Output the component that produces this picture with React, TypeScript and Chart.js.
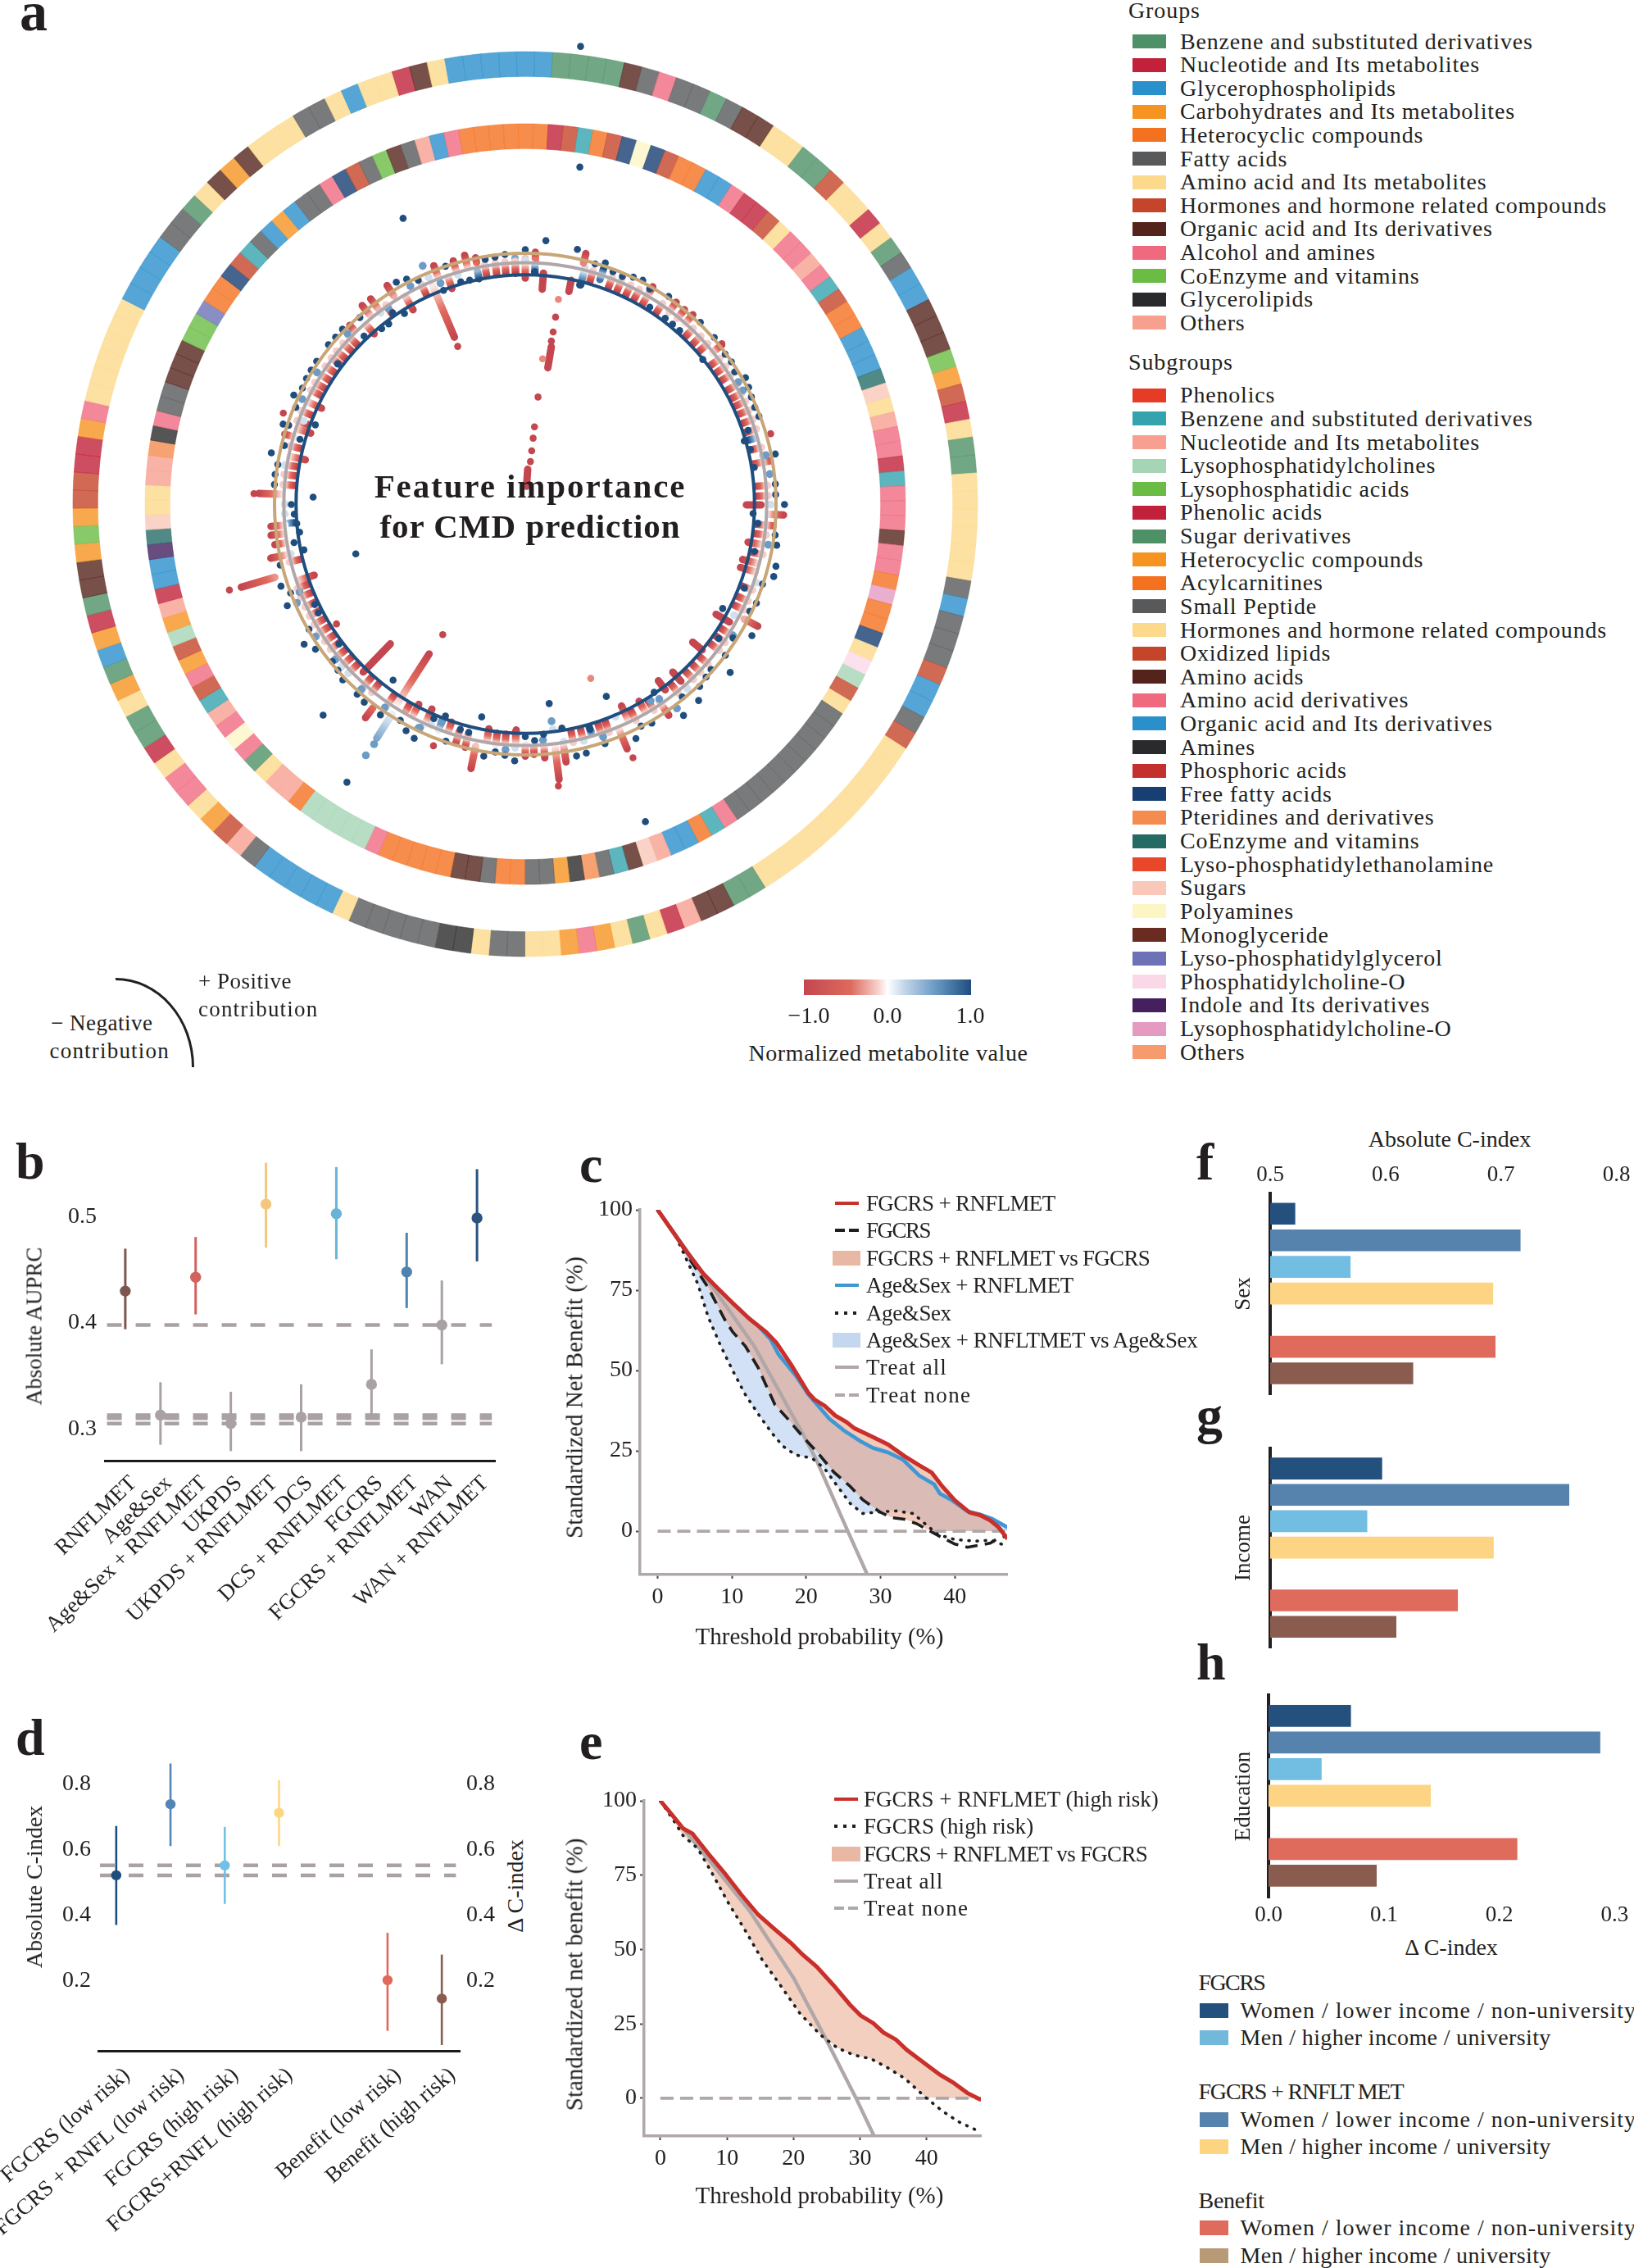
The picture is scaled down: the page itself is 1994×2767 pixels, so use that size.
import React, { useEffect, useRef } from "react";
import { Chart, registerables } from "chart.js";

Chart.register(...registerables);

const FONT = '"Liberation Serif", serif';
const INK = "#231f20";
const GREY = "#a9a1a4";
Chart.defaults.font.family = FONT;
Chart.defaults.color = INK;

// ---------- panel a: palette ----------
const ringPalette: Record<string, string> = {
  blue: "#2a90cc", green: "#4f9166", grey: "#58595b", brown: "#54241c", yellow: "#fcd98b", pink: "#ef6a7f",
  horm: "#c4452a", red: "#c1213a", orange: "#f47120", amber: "#f79320", lime: "#6abc45", black: "#2a2a2c",
  salmon: "#f8a090", teal: "#35a3ae", dkteal: "#246b66", navy: "#173f73", peach: "#f9c8b8", cream: "#fcf6c5",
  lilac: "#6c72b5", ltpink: "#fbd8e8", purple: "#44205f", mint: "#a5d5b5", lilacpink: "#e59ac2", ptorange: "#f58b4e",
};

const outerRing: [string, number][] = [
  ["blue",2],["green",4],["brown",1],["grey",1],["pink",1],["grey",2],["green",1],["grey",1],["brown",2],["yellow",2],
  ["green",2],["horm",1],["yellow",2],["red",1],["yellow",1],["green",1],["grey",1],["blue",2],["brown",3],["lime",1],
  ["amber",1],["horm",1],["red",1],["yellow",1],["green",2],["yellow",6],["grey",1],["blue",1],["grey",3],["horm",1],
  ["blue",2],["grey",1],["horm",1],["yellow",11],["green",2],["brown",2],["salmon",1],["red",1],["yellow",1],["green",1],
  ["yellow",1],["amber",1],["pink",1],["amber",1],["yellow",2],["grey",2],["yellow",1],["black",2],["grey",5],["yellow",1],
  ["blue",5],["grey",1],["salmon",1],["horm",1],["amber",1],["yellow",1],["pink",2],["yellow",1],["red",1],["green",2],
  ["yellow",1],["amber",1],["green",1],["blue",1],["amber",1],["red",1],["green",1],["brown",2],["amber",1],["lime",1],
  ["amber",1],["horm",2],["red",2],["amber",1],["pink",1],["yellow",6],["blue",4],["grey",2],["green",1],["yellow",1],
  ["brown",1],["amber",1],["brown",1],["yellow",3],["grey",2],["yellow",1],["blue",1],["yellow",2],["red",1],["brown",1],
  ["yellow",1],["blue",4],
];

const innerRing: [string, number][] = [
  ["orange",1],["red",1],["horm",1],["teal",1],["orange",1],["horm",1],["navy",1],["cream",1],["navy",1],["horm",1],
  ["orange",2],["blue",2],["pink",1],["red",2],["horm",1],["yellow",1],["pink",2],["salmon",1],["pink",1],["teal",1],
  ["horm",1],["orange",2],["blue",3],["dkteal",1],["peach",1],["yellow",1],["salmon",1],["pink",2],["red",1],["teal",1],
  ["pink",3],["brown",1],["pink",2],["orange",1],["lilacpink",1],["orange",2],["navy",1],["yellow",1],["ltpink",1],["mint",1],
  ["horm",1],["yellow",1],["grey",10],["pink",1],["teal",1],["orange",1],["blue",2],["salmon",1],["peach",1],["brown",1],
  ["teal",1],["grey",1],["ptorange",1],["black",1],["amber",1],["grey",2],["orange",2],["grey",1],["brown",2],["orange",5],
  ["pink",1],["mint",5],["orange",1],["salmon",2],["yellow",1],["green",1],["pink",1],["cream",1],["pink",1],["salmon",1],
  ["teal",1],["horm",1],["pink",1],["amber",1],["horm",1],["mint",1],["amber",1],["salmon",1],["red",1],["blue",2],
  ["purple",1],["dkteal",1],["peach",1],["yellow",2],["salmon",2],["ptorange",1],["black",1],["pink",1],["grey",2],["brown",3],
  ["lime",2],["lilac",1],["orange",2],["navy",1],["horm",1],["teal",1],["grey",1],["blue",1],["amber",1],["blue",1],
  ["grey",2],["pink",1],["navy",1],["horm",1],["grey",1],["lime",1],["brown",1],["grey",1],["salmon",1],["blue",1],["pink",1],["orange",5],
];

// ---------- panel a: circular feature plot (angle in degrees, radius) ----------
const regularRedAngles = [
  16.2,21,23.3,25.7,28,34.4,43.7,46.3,48.7,53.2,55.5,57.8,60.6,62.9,65,67.2,69.6,72,76.5,85.6,88,97.3,102,110.7,113.5,115.8,
  122.4,124.7,127,131.2,133.8,136.2,141,148,152.9,159.8,161.7,166.2,168.6,214.5,219.2,221.6,226.3,228.6,231,233.3,235.6,238,
  240.3,242.6,245,247.5,249.7,256.2,274.6,277,279.3,283.9,290.1,292.6,298,300,302.3,304.6,307,309,311.4,313.5,325,334.7,350.4,352.9,355.2,357.6,
];
const specialRedSpokes: [number, number, number][] = [
  [0,278,302],[2.3,303,310],[4.5,265,285],[9.4,170,196],[4,22,43],[11.6,267,281],[13.6,305,317],[30.4,285,310],[36.8,295,310],[39.3,295,309],
  [41.5,296,311],[51,296,311],[80,285,306],[90.2,272,290],[92.4,299,318],[95,285,306],[99.7,278,295],[104.3,276,295],[106.4,276,295],[117.7,304,323],
  [120,271,290],[129.5,267,282],[138.7,275,290],[143,272,286],[145.8,294,314],[150,280,295],[154.5,275,295],[157.4,300,326],[171,300,321],[173,298,341],
  [175.6,298,313],[178,300,308],[180,296,310],[182.3,278,295],[184.8,284,296],[187,284,298],[189.2,280,295],[191.6,304,332],[193.9,292,308],[196.2,292,306],
  [198.7,283,297],[204.5,277,298],[208,279,294],[210,285,293],[212.7,219,294],[216.8,313,328],[224,239,287],[251.4,274,293],[253.7,321,364],[258,300,320],
  [260.8,297,312],[263,297,315],[265,297,314],[272.3,300,328],[281.4,276,296],[286.2,296,308],[288.3,278,295],[295.2,277,296],[315.5,297,308],[318.4,280,296],
  [320.6,300,316],[323,302,316],[327.7,303,318],[330,276,293],[337,223,291],[339,300,314],[341.2,280,295],[343.5,300,312],[346.3,300,315],[348.6,303,309],
];
const blueSpokes: [number, number, number][] = [
  [357.6,284,303],[2.3,286,296],[348.4,283,292],[14.2,278,300],[18.4,291,305],[74,285,297],[201,285,298],[164,285,297],[221.5,300,308],[265.4,285,297],
];
const steelSpokes: [number, number, number][] = [[212.4,306,341]];

// read relative to a point 9 units above the centre of the rings
const navyDots: [number, number][] = [
  [7,558],[9.4,411],[159.7,426],
  [-23.7,374],[4.6,316],[0,304],[11.9,311],[16.7,299],[18.9,304],[-4.8,299],[-7.2,297],[-9.6,296],[-19.1,300],[-26.3,297],[-28.6,305],[-31,308],[-21.6,273],[-16.7,276],[-14.4,275],[-35.8,279],[-33.4,270],[-38.3,271],[-40.5,272],[-45.1,280],[-42.7,300],[-47.5,305],[-49.9,305],[-52.3,306],[-54.7,283],[-57,306],[-59.4,306],[-61.6,306],[-64,305],[-66.3,311],[-68.7,303],[-73.3,311],[-73.2,304],[-71.1,273],[-75.7,286],[-78,303],[-80.2,317],[-82.6,307],[-84.9,309],[-87.2,309],[-90.1,261],[-91.9,288],[-94.3,285],[-96.7,283],[-98.9,281],[-101.2,290],[-103.5,280],[-108.6,220],[-105.6,313],[-110.1,320],[-112.3,312],[-114.6,322],[-117.1,291],
  [-119.3,292],[-121.5,312],[-123.7,327],[-126,319],[-128.3,292],[-130.5,312],[-132.8,314],[-135.1,318],[-139.6,319],[-141.9,321],[-144.2,278],[-146.4,322],[-137.2,366],[-150.8,315],[-153,323],[-155.3,327],[-157.6,295],[-160,287],[-164.4,297],[-166.5,298],[-162,316],[-168.8,276],[-170.9,323],[-173.3,316],[-175.5,319],[-177.7,325],[180,295],[-148,414],
  [173.4,256],[157.9,265],[177.8,300],[175.6,293],[171,288],[168.8,325],[166.6,324],[164.4,297],[162.1,319],[155.4,327],[153.2,316],[150.8,319],[146.6,288],[144.1,332],[141.9,313],[139.6,329],[137.4,317],[134.9,314],[132.9,312],[130.6,332],[128.4,314],[124.2,309],[126.2,295],[121.5,327],[119.5,279],[117,310],[114.7,313],[107.8,321],[105.5,320],[110.2,311],[112.6,292],[103.4,290],[100.9,315],[98.7,311],[96.5,288],[94.2,281],[91.7,319],[87.1,308],[89.5,308],[82.7,284],[80.3,312],[78.1,283],[75.7,278],[73.4,286],[71,304],
  [2.4,277],[14.4,269],[21.3,297],[23.8,296],[26.2,301],[28.5,303],[30.9,298],[35.6,303],[33.3,279],[38.1,279],[40.5,279],[42.9,279],[45.1,304],[49.9,304],[52.3,276],[54.5,302],[56.8,303],[59.2,300],[61.6,308],[63.9,306],[66.2,304],[68.7,303],
];
const redDots: [number, number][] = [
  [9.2,233],[9.2,214.5],[9.1,203],[6.8,132.6],[6.8,95.7],[6.8,81.6],[6.9,66],[6.9,52.7],[50.8,312],[74,314],[157,339],[173.3,349],[212.3,190],[253.8,379],[237.6,275],[272.2,334],[290.6,318],[336.8,211],[200.8,318],
];
const lightRedDots: [number, number][] = [[9.2,255],[6.8,180],[159.4,229]];
const steelDots: [number, number][] = [
  [212.4,366],[212.2,349],[173.1,269],[175.7,291],[99.5,303],[83,303],[122.3,302],[147.5,287],[143.4,313],[161.5,302],[163.9,291],[184.6,303],[201,287],[205.5,305],[221.5,304],[214.6,304],[205.2,304],[237.7,305],[246.6,306],[248.7,298],[230.7,302],[313.8,303],[302.3,303],[295.2,303],[332.2,303],[339,291],[60.2,302],[62.4,302],[78.5,302],[325,294],[145.5,291],[336.7,319],
];
const paleDots: [number, number][] = [
  [173,279],[78.5,298],[336.9,303],[343.6,294],[0,300],[322.9,295],[279.2,300],[270,296],[267.7,296],[258,295],[226.3,301],[228.5,302],[203.1,295],[182.4,300],[170.8,296],[166.1,300],[157,284],[138.7,302],[118,291],[108.8,300],[90.1,302],[290.6,291],
];
const ringRadii = [308.5, 297, 282];
const ringColors = ["#c8a678", "#b0a7a8", "#1f4e7e"];

// ---------- legends ----------
const groupNames = ["Benzene and substituted derivatives","Nucleotide and Its metabolites","Glycerophospholipids","Carbohydrates and Its metabolites","Heterocyclic compounds","Fatty acids","Amino acid and Its metabolites","Hormones and hormone related compounds","Organic acid and Its derivatives","Alcohol and amines","CoEnzyme and vitamins","Glycerolipids","Others"];
const groupColors = ["#4f9166","#c1213a","#2a90cc","#f79320","#f47120","#58595b","#fcd98b","#c4452a","#54241c","#ef6a7f","#6abc45","#2a2a2c","#f8a090"];
const subgroupNames = ["Phenolics","Benzene and substituted derivatives","Nucleotide and Its metabolites","Lysophosphatidylcholines","Lysophosphatidic acids","Phenolic acids","Sugar derivatives","Heterocyclic compounds","Acylcarnitines","Small Peptide","Hormones and hormone related compounds","Oxidized lipids","Amino acids","Amino acid derivatives","Organic acid and Its derivatives","Amines","Phosphoric acids","Free fatty acids","Pteridines and derivatives","CoEnzyme and vitamins","Lyso-phosphatidylethanolamine","Sugars","Polyamines","Monoglyceride","Lyso-phosphatidylglycerol","Phosphatidylcholine-O","Indole and Its derivatives","Lysophosphatidylcholine-O","Others"];
const subgroupColors = ["#e63c26","#35a3ae","#f8a090","#a5d5b5","#6abc45","#c1213a","#4f9166","#f79320","#f47120","#58595b","#fcd98b","#c4452a","#54241c","#ef6a7f","#2a90cc","#2a2a2c","#c4302e","#173f73","#f58b4e","#246b66","#e8472a","#f9c8b8","#fcf6c5","#6a2c20","#6c72b5","#fbd8e8","#44205f","#e59ac2","#f79a6e"];

// ---------- panel b ----------
const bLabels = ["RNFLMET","Age&Sex","Age&Sex + RNFLMET","UKPDS","UKPDS + RNFLMET","DCS","DCS + RNFLMET","FGCRS","FGCRS + RNFLMET","WAN","WAN + RNFLMET"];
const bMeans = [0.430,0.313,0.443,0.305,0.512,0.311,0.503,0.342,0.448,0.398,0.499];
const bLows = [0.394,0.285,0.408,0.279,0.471,0.279,0.460,0.313,0.414,0.361,0.458];
const bHighs = [0.470,0.344,0.481,0.335,0.551,0.342,0.547,0.375,0.485,0.440,0.545];
const bColors = ["#7d5650",GREY,"#d0625f",GREY,"#f3c77e",GREY,"#66b5d8",GREY,"#4f82ad",GREY,"#2a5380"];
const bRefLines = [0.398,0.313,0.310,0.305];

// ---------- panel c ----------
type P = [number, number];
const cRed: P[] = [[0,100],[1.8,94],[4.2,86],[6.2,80],[7.9,76],[10.1,71],[12.4,66],[14.6,62],[16,58.6],[18,51.7],[20.3,43],[21.1,41],[22.5,39],[23.9,36],[25.4,34],[26.5,32],[28.7,29.6],[31,27],[33.2,23.4],[35.2,20.5],[36.9,18.2],[38.3,14],[40,9.6],[42,5.8],[43.4,5],[44.8,3.3],[45.9,1.2],[47.1,-2.4]];
const cBlue: P[] = [[0,100],[1.8,94],[4.2,86],[6.2,80],[7.9,76],[10.1,71],[12.4,66],[13.5,64],[15.2,59.7],[16.3,54.9],[18.6,48.4],[20.3,42.5],[21.7,38.8],[23.1,35],[25.1,31.3],[27.3,28],[29,25.9],[31,24.5],[33,22.3],[35.2,17.3],[37.2,14.6],[38,11.7],[39.7,9.5],[41.7,6.2],[43.4,5.2],[45,3.9],[47.1,1.2]];
const cFgcrs: P[] = [[0,100],[2.3,92.5],[4.5,84],[6.8,75.8],[9,66],[10.1,62],[11.8,57.6],[13.5,51],[15.8,39.3],[17.5,35],[19.7,29],[21.4,24.8],[23.7,18.4],[25.9,14],[27.6,9.8],[29.9,6],[31.5,4.2],[33.2,3.7],[34.9,2.3],[36.6,0.1],[38.3,-2],[40,-4],[41.7,-5],[43.7,-4.2],[44.8,-3.7],[45.9,-2],[47.1,-1.5]];
const cAgeSex: P[] = [[0,100],[2.3,92.5],[3.7,85.5],[5.4,77],[6.8,66.7],[8.5,57.6],[10.1,50],[11.8,42.5],[13.8,35.6],[15.5,30.2],[16.9,26.4],[18.6,23.7],[20.8,22.7],[22.5,19.4],[24.2,14],[25.9,8.7],[27.6,5.5],[29.9,6],[32.1,6.3],[34.4,5.5],[36,2.3],[37.7,-1],[40,-2.6],[42.8,-3.1],[44.8,-2.8],[47.1,-4.7]];
const cTreatAll: P[] = [[0,100],[6.8,78],[13,57.6],[19.7,29.6],[21.4,22],[25.6,0],[28.2,-13.4]];
const cTreatNone: P[] = [[0,0],[47.1,0]];
const cLegend = ["FGCRS + RNFLMET","FGCRS","FGCRS + RNFLMET vs FGCRS","Age&Sex + RNFLMET","Age&Sex","Age&Sex + RNFLTMET vs Age&Sex","Treat all","Treat none"];
const cLegendSpacing = [-0.65,-1.5,-0.7,-0.5,-0.4,-0.45,1,1.3];

// ---------- panel d ----------
const dLabels = ["FGCRS (low risk)","FGCRS + RNFL (low risk)","FGCRS (high risk)","FGCRS+RNFL (high risk)","","Benefit (low risk)","Benefit (high risk)"];
const dSlots = [0,1,2,3,5,6];
const dMeans = [0.522,0.738,0.552,0.712,0.203,0.147];
const dLows = [0.371,0.611,0.435,0.611,0.049,0.006];
const dHighs = [0.672,0.862,0.669,0.811,0.347,0.281];
const dColors = ["#1f4e7e","#5485b4","#72c0e6","#fdd680","#e0695b","#8a5b4f"];
const dRefLines = [0.552,0.522];

// ---------- panel e ----------
const eRed: P[] = [[0,100],[2.1,94.3],[3.4,90.7],[4.8,89],[7.2,82.2],[9.7,75.5],[12.2,68.3],[14.7,61.7],[17.2,56.8],[19.7,52],[21.3,48.4],[23.5,44.2],[26,38],[28.5,31.4],[30.1,27.8],[32,25.2],[33.5,22.1],[35.4,19.7],[37,16.3],[40.1,11.1],[42,7.9],[43.9,5.4],[46.1,1.8],[48.2,-0.6]];
const eDotted: P[] = [[0,100],[2.1,93],[3.4,88.3],[5.6,84],[7.8,75.5],[10.3,65.3],[12.8,56.2],[15.3,46.5],[17.8,38.7],[21,28.4],[24.1,21.2],[26.6,16.9],[29.1,14.5],[31.6,13.3],[34.1,10.3],[36.7,6.7],[39.8,0.4],[42.3,-4.2],[44.8,-7.9],[48.2,-11.5]];
const eTreatAll: P[] = [[0,100],[7.2,80.4],[13.4,63],[20,40.5],[24.7,20.6],[29.4,0],[32.1,-12.7]];
const eTreatNone: P[] = [[0,0],[48.2,0]];
const eLegend = ["FGCRS + RNFLMET (high risk)","FGCRS (high risk)","FGCRS + RNFLMET vs FGCRS","Treat all","Treat none"];
const eLegendSpacing = [0,0.1,-0.7,0.8,1.3];

// ---------- panels f, g, h ----------
const barSlots = [0,1,2,3,5,6];
const barColors = ["#24507e","#5683ae","#72bde2","#fdd484","#df6b5c","#8a5c50"];
const sexValues = [0.5215,0.7167,0.5694,0.693,0.695,0.6237];
const incomeValues = [0.5968,0.7589,0.5839,0.6935,0.6624,0.6091];
const educationValues = [0.0712,0.2873,0.0458,0.1404,0.2154,0.0935];
const genderLegend = ["Women / lower income / non-university","Men / higher income / university"];
const legendBlocks: [string, string, string, number, number, number][] = [
  ["FGCRS","#24507e","#72b8da",2419,2452.7,-1.6],
  ["FGCRS + RNFLT MET","#5683ae","#fdd480",2551.7,2585.7,-1.2],
  ["Benefit","#df6b5c","#b89a77",2685,2718,-0.3],
];

// ---------- helpers ----------
type Box = { l: number; t: number; r: number; b: number };

function ChartBox({ c, make }: { c: Box; make: () => any }) {
  const ref = useRef<HTMLCanvasElement>(null);
  useEffect(() => {
    const chart = new Chart(ref.current as HTMLCanvasElement, make());
    return () => chart.destroy();
  }, []);
  return (
    <canvas
      ref={ref}
      width={c.r - c.l}
      height={c.b - c.t}
      style={{ position: "absolute", left: c.l, top: c.t, width: c.r - c.l, height: c.b - c.t, display: "block" }}
    />
  );
}

function T({ x, y, s = 28, text, align = "left", rot = 0, bold = false, ls = 0 }: { x: number; y: number; s?: number; text: string; align?: string; rot?: number; bold?: boolean; ls?: number }) {
  const tx = align === "left" ? "0" : align === "center" ? "-50%" : "-100%";
  return (
    <span
      style={{
        position: "absolute", left: x, top: y, fontFamily: FONT, fontSize: s, lineHeight: 1, color: INK, whiteSpace: "nowrap",
        fontWeight: bold ? 700 : 400, letterSpacing: ls,
        transform: `translate(${tx},-50%) rotate(${rot}deg)`,
      }}
    >
      {text}
    </span>
  );
}

function Swatch({ x, y, w, h, color }: { x: number; y: number; w: number; h: number; color: string }) {
  return <div style={{ position: "absolute", left: x, top: y - h / 2, width: w, height: h, background: color }} />;
}

const fix = (size: number) => (s: any) => {
  if (s.isHorizontal()) s.height = size; else s.width = size;
  s.paddingLeft = s.paddingRight = s.paddingTop = s.paddingBottom = 0;
};
const only = (values: number[]) => (s: any) => { s.ticks = values.map((value) => ({ value })); };
const xy = (pts: P[]) => pts.map(([x, y]) => ({ x, y }));
const floorAtZero = (pts: P[]) => pts.map(([x, y]) => ({ x, y: Math.max(y, 0) }));
const base = { animation: false, responsive: false, devicePixelRatio: 1, events: [] as string[] };
const noLegend = { legend: { display: false }, tooltip: { enabled: false }, title: { display: false } };

// ---------- panel a charts ----------
function expand(runs: [string, number][]) {
  const out: string[] = [];
  runs.forEach(([name, n]) => { for (let i = 0; i < n; i++) out.push(ringPalette[name]); });
  return out;
}
function ringsConfig() {
  const o = expand(outerRing);
  const i = expand(innerRing);
  return {
    type: "doughnut",
    data: {
      labels: o.map((_, k) => String(k)),
      datasets: [
        { data: o.map(() => 1), backgroundColor: o.map((h) => h + "cc"), borderColor: o.map((h) => h + "77"), borderWidth: 1, weight: 30, rotation: -1.1 },
        { data: [1], backgroundColor: "rgba(0,0,0,0)", borderWidth: 0, weight: 57 },
        { data: i.map(() => 1), backgroundColor: i.map((h) => h + "cc"), borderColor: i.map((h) => h + "77"), borderWidth: 1, weight: 30, rotation: 1.2 },
      ],
    },
    options: { ...base, radius: 552, cutout: 435.6, plugins: noLegend },
  };
}

const rad = (d: number) => (d * Math.PI) / 180;
const polar = (a: number, r: number) => ({ x: r * Math.sin(rad(a)), y: r * Math.cos(rad(a)) });
const READ_OFFSET = 9;
const offsetPolar = ([a, r]: [number, number]) => ({ x: r * Math.sin(rad(a)), y: r * Math.cos(rad(a)) + READ_OFFSET });

const hex = (h: string) => [1, 3, 5].map((i) => parseInt(h.slice(i, i + 2), 16));
const mix = (a: string, b: string, t: number) => {
  const A = hex(a), B = hex(b);
  return `rgb(${A.map((v, i) => Math.round(v + (B[i] - v) * t)).join(",")})`;
};
const families: Record<string, [string, string]> = {
  red: ["#e2695c", "#c4464f"],
  blue: ["#6c9cc6", "#1f4e7e"],
  steel: ["#c3d6e8", "#7ea6cc"],
};
const shade = (g: number, fam: string) => {
  const [mid, deep] = families[fam];
  if (g < 0.5) return mix("#ffffff", mid, g * 2);
  return mix(mid, deep, (g - 0.5) * 2);
};
function spokeDatasets(list: [number, number, number][], fam: string) {
  return list.map(([a, r0, r1]) => ({
    type: "line",
    data: [polar(a, r0), polar(a, r1)],
    pointRadius: 0,
    borderWidth: 9,
    borderCapStyle: "round",
    borderColor: families[fam][1],
    order: 5,
    spoke: { a, r0, r1, fam },
  }));
}
// colours every spoke along its length, once the scales know their pixels
const spokeGradients = {
  id: "spokeGradients",
  beforeDatasetsDraw(chart: any) {
    const sx = chart.scales.x, sy = chart.scales.y;
    chart.data.datasets.forEach((ds: any, index: number) => {
      if (!ds.spoke) return;
      const { a, r0, r1, fam } = ds.spoke;
      const p0 = polar(a, r0), p1 = polar(a, r1);
      const grad = chart.ctx.createLinearGradient(
        sx.getPixelForValue(p0.x), sy.getPixelForValue(p0.y),
        sx.getPixelForValue(p1.x), sy.getPixelForValue(p1.y)
      );
      const maxD = Math.max(Math.abs(r0 - 297), Math.abs(r1 - 297));
      const solid = r1 <= 290;
      for (let i = 0; i <= 8; i++) {
        const t = i / 8;
        const r = r0 + (r1 - r0) * t;
        grad.addColorStop(t, shade(solid ? 1 : Math.abs(r - 297) / maxD, fam));
      }
      const line = chart.getDatasetMeta(index).dataset;
      const original = line.options;
      line.options = new Proxy(original, {
        get: (target: any, key: any) => (key === "borderColor" ? grad : target[key]),
      });
    });
  },
};
const ringLines = {
  id: "ringLines",
  afterDatasetsDraw(chart: any) {
    const { x: sx, y: sy } = chart.scales;
    const c = chart.ctx;
    const cx = sx.getPixelForValue(0), cy = sy.getPixelForValue(0);
    ringRadii.forEach((r, i) => {
      c.save();
      c.beginPath();
      c.arc(cx, cy, sx.getPixelForValue(r) - cx, 0, Math.PI * 2);
      c.strokeStyle = ringColors[i];
      c.lineWidth = 4;
      c.stroke();
      c.restore();
    });
  },
};
function dotSet(list: [number, number][], color: string, radius: number, order: number) {
  return { type: "scatter", data: list.map(offsetPolar), pointRadius: radius, pointBackgroundColor: color, pointBorderWidth: 0, order };
}
function trueDotSet(list: [number, number][], color: string, radius: number, order: number) {
  return { type: "scatter", data: list.map(([a, r]) => polar(a, r)), pointRadius: radius, pointBackgroundColor: color, pointBorderWidth: 0, order };
}
function circleConfig() {
  const regular = regularRedAngles.map((a) => [a, 285, 299] as [number, number, number]);
  return {
    type: "scatter",
    data: {
      datasets: [
        dotSet(navyDots, "#1f4e7e", 4.3, 1),
        trueDotSet(redDots, "#c4464f", 4.3, 2),
        trueDotSet(lightRedDots, "#e9897c", 4.3, 2),
        trueDotSet(steelDots, "#6c9cc6", 4.8, 3),
        trueDotSet(paleDots, "#d2e0ee", 4.8, 3),
        ...spokeDatasets([...regular, ...specialRedSpokes], "red"),
        ...spokeDatasets(blueSpokes, "blue"),
        ...spokeDatasets(steelSpokes, "steel"),
      ],
    },
    options: {
      ...base,
      layout: { padding: 0 },
      plugins: noLegend,
      scales: {
        x: { type: "linear", min: -600, max: 600, display: false },
        y: { type: "linear", min: -600, max: 600, display: false },
      },
    },
    plugins: [spokeGradients, ringLines],
  };
}

// ---------- point + interval panels ----------
function refDatasets(vals: number[], x0: number, x1: number) {
  return vals.map((v) => ({
    type: "line", data: [{ x: x0, y: v }, { x: x1, y: v }], borderColor: GREY, borderWidth: 4.5, borderDash: [18, 17], pointRadius: 0, order: 3,
  }));
}
function ivalDatasets(slots: number[], lows: number[], highs: number[], colors: string[], w: number) {
  return slots.map((s, i) => ({
    type: "line", data: [{ x: s, y: lows[i] }, { x: s, y: highs[i] }], borderColor: colors[i], borderWidth: w, pointRadius: 0, order: 2,
  }));
}
function bConfig(a: Box, c: Box) {
  const slots = bLabels.map((_, i) => i);
  return {
    type: "line",
    data: {
      datasets: [
        { data: slots.map((s) => ({ x: s, y: bMeans[s] })), showLine: false, pointRadius: 6.7, pointBackgroundColor: bColors, pointBorderWidth: 0, order: 1 },
        ...ivalDatasets(slots, bLows, bHighs, bColors, 3),
        ...refDatasets(bRefLines, -0.52, 10.42),
      ],
    },
    options: {
      ...base,
      layout: { padding: { top: a.t - c.t, right: c.r - a.r, left: 0, bottom: 0 } },
      plugins: noLegend,
      scales: {
        x: {
          type: "linear", min: -0.58, max: 10.51, afterFit: fix(c.b - a.b), afterBuildTicks: only(slots),
          grid: { display: false, drawTicks: false }, border: { display: true, color: "#1a1a1a", width: 3 },
          ticks: { autoSkip: false, minRotation: 44, maxRotation: 44, padding: 12, labelOffset: 10, font: { size: 27 }, callback: (v: number) => bLabels[v] },
        },
        y: {
          type: "linear", min: 0.27, max: 0.5577, afterFit: fix(a.l - c.l), afterBuildTicks: only([0.3, 0.4, 0.5]),
          grid: { display: false, drawTicks: false }, border: { display: false },
          ticks: { padding: 10, font: { size: 28 }, callback: (v: number) => v.toFixed(1) },
        },
      },
    },
  };
}
function dConfig(a: Box, c: Box) {
  return {
    type: "line",
    data: {
      datasets: [
        { data: dSlots.map((s, i) => ({ x: s, y: dMeans[i] })), showLine: false, pointRadius: 6.2, pointBackgroundColor: dColors, pointBorderWidth: 0, order: 1 },
        ...ivalDatasets(dSlots, dLows, dHighs, dColors, 2.6),
        ...refDatasets(dRefLines, -0.3, 6.26),
      ],
    },
    options: {
      ...base,
      layout: { padding: { top: a.t - c.t, left: 0, right: 0, bottom: 0 } },
      plugins: noLegend,
      scales: {
        x: {
          type: "linear", min: -0.33, max: 6.33, afterFit: fix(c.b - a.b), afterBuildTicks: only(dSlots),
          grid: { display: false, drawTicks: false }, border: { display: true, color: "#1a1a1a", width: 3 },
          ticks: { autoSkip: false, minRotation: 41, maxRotation: 41, padding: 14, labelOffset: 13, font: { size: 27 }, callback: (v: number) => dLabels[v] },
        },
        y: {
          type: "linear", min: -0.0116, max: 0.9155, afterFit: fix(a.l - c.l), afterBuildTicks: only([0.2, 0.4, 0.6, 0.8]),
          grid: { display: false, drawTicks: false }, border: { display: false },
          ticks: { padding: 9, font: { size: 28 }, callback: (v: number) => v.toFixed(1) },
        },
        y2: {
          type: "linear", position: "right", min: -0.0116, max: 0.9155, afterFit: fix(c.r - a.r), afterBuildTicks: only([0.2, 0.4, 0.6, 0.8]),
          grid: { display: false, drawTicks: false }, border: { display: false },
          ticks: { padding: 8, font: { size: 28 }, callback: (v: number) => v.toFixed(1) },
        },
      },
    },
  };
}

// ---------- decision curves ----------
const AXIS = "#b0a7a8";
function curveAxes(a: Box, c: Box, xr: [number, number], yr: [number, number]) {
  const grid = { display: true, drawOnChartArea: false, drawTicks: true, tickLength: 5, tickColor: "#444", tickWidth: 2 };
  return {
    x: {
      type: "linear", min: xr[0], max: xr[1], afterFit: fix(c.b - a.b), afterBuildTicks: only([0, 10, 20, 30, 40]),
      grid, border: { display: true, color: AXIS, width: 3.5 },
      ticks: { padding: 6, font: { size: 28 }, autoSkip: false, maxRotation: 0 },
    },
    y: {
      type: "linear", min: yr[0], max: yr[1], afterFit: fix(a.l - c.l), afterBuildTicks: only([0, 25, 50, 75, 100]),
      grid, border: { display: true, color: AXIS, width: 3.5 },
      ticks: { padding: 4, font: { size: 28 } },
    },
  };
}
const curve = (pts: P[], color: string, width: number, extra: any = {}) => ({ data: xy(pts), borderColor: color, borderWidth: width, pointRadius: 0, tension: 0, ...extra });
const DOTTED = { borderDash: [1, 9], borderCapStyle: "round" };
const DASHED = { borderDash: [15, 9] };
const fillers = { propagate: false, drawTime: "beforeDatasetsDraw" };
function cConfig(a: Box, c: Box) {
  const salmon = "rgba(229,150,120,0.5)";
  const blue = "rgba(165,195,235,0.5)";
  return {
    type: "line",
    data: {
      datasets: [
        curve(cRed, "#c9302c", 5, { fill: { target: 6, above: salmon, below: "rgba(0,0,0,0)" }, order: 1 }),
        curve(cFgcrs, "#1f1f1f", 3.6, { ...DASHED, order: 2 }),
        curve(cBlue, "#3f97d3", 4.6, { fill: { target: 7, above: blue, below: "rgba(0,0,0,0)" }, order: 3 }),
        curve(cAgeSex, "#1f1f1f", 3.6, { ...DOTTED, order: 2 }),
        curve(cTreatAll, AXIS, 4.4, { order: 4 }),
        curve(cTreatNone, AXIS, 3.8, { borderDash: [16, 8], order: 4 }),
        { data: floorAtZero(cFgcrs), borderColor: "rgba(0,0,0,0)", borderWidth: 0, pointRadius: 0, order: 9 },
        { data: floorAtZero(cAgeSex), borderColor: "rgba(0,0,0,0)", borderWidth: 0, pointRadius: 0, order: 9 },
      ],
    },
    options: {
      ...base,
      layout: { padding: { top: a.t - c.t, right: c.r - a.r, left: 0, bottom: 0 } },
      plugins: { ...noLegend, filler: fillers },
      scales: curveAxes(a, c, [-2.37, 47.04], [-13.5, 100]),
    },
  };
}
function eConfig(a: Box, c: Box) {
  return {
    type: "line",
    data: {
      datasets: [
        curve(eRed, "#c9302c", 5, { fill: { target: 4, above: "rgba(232,160,130,0.5)", below: "rgba(0,0,0,0)" }, order: 1 }),
        curve(eDotted, "#1f1f1f", 3.6, { ...DOTTED, order: 2 }),
        curve(eTreatAll, AXIS, 4.4, { order: 3 }),
        curve(eTreatNone, AXIS, 3.8, { borderDash: [16, 8], order: 3 }),
        { data: floorAtZero(eDotted), borderColor: "rgba(0,0,0,0)", borderWidth: 0, pointRadius: 0, order: 9 },
      ],
    },
    options: {
      ...base,
      layout: { padding: { top: a.t - c.t, right: c.r - a.r, left: 0, bottom: 0 } },
      plugins: { ...noLegend, filler: fillers },
      scales: curveAxes(a, c, [-2.45, 48.15], [-12.7, 100]),
    },
  };
}

// ---------- horizontal bars ----------
function barConfig(a: Box, c: Box, values: number[], xr: [number, number], side: string, yr: [number, number], ticks: number[], xpos: string) {
  return {
    type: "bar",
    data: {
      datasets: [{
        data: barSlots.map((s, i) => ({ x: values[i], y: s })),
        backgroundColor: barColors, barThickness: 26, borderWidth: 0,
      }],
    },
    options: {
      ...base,
      indexAxis: "y",
      layout: { padding: { top: xpos === "none" || xpos === "bottom" ? a.t - c.t : 0, right: c.r - a.r, left: 0, bottom: xpos === "top" || xpos === "none" ? c.b - a.b : 0 } },
      plugins: noLegend,
      scales: {
        x: {
          type: "linear", position: xpos === "top" ? "top" : "bottom", min: xr[0], max: xr[1], display: xpos !== "none",
          afterFit: fix(xpos === "top" ? a.t - c.t : c.b - a.b), afterBuildTicks: only(ticks),
          grid: { display: false, drawTicks: false }, border: { display: false },
          ticks: { padding: 6, font: { size: 27 }, maxRotation: 0, autoSkip: false, callback: (v: number) => v.toFixed(1) },
        },
        y: {
          type: "linear", offset: false, reverse: true, min: yr[0], max: yr[1], afterFit: fix(a.l - c.l),
          grid: { display: false, drawTicks: false, offset: false }, border: { display: true, color: "#231f20", width: 4 },
          title: { display: true, text: side, font: { size: 27 }, padding: { top: 7, bottom: 0 } },
          ticks: { display: false },
        },
      },
    },
  };
}

// ---------- frames ----------
const aBoxes = {
  b: { a: { l: 128, t: 1410, r: 604, b: 1782 }, c: { l: 0, t: 1390, r: 650, b: 2040 } },
  c: { a: { l: 781, t: 1476, r: 1229, b: 1921 }, c: { l: 685, t: 1460, r: 1245, b: 2017 } },
  d: { a: { l: 120, t: 2130, r: 561, b: 2502 }, c: { l: 0, t: 2110, r: 612, b: 2767 } },
  e: { a: { l: 786, t: 2197, r: 1197, b: 2606 }, c: { l: 685, t: 2180, r: 1213, b: 2700 } },
  f: { a: { l: 1550, t: 1456, r: 1971, b: 1701 }, c: { l: 1495, t: 1400, r: 1994, b: 1703 } },
  g: { a: { l: 1550, t: 1767, r: 1971, b: 2012 }, c: { l: 1495, t: 1760, r: 1994, b: 2014 } },
  h: { a: { l: 1548, t: 2068, r: 1971, b: 2315 }, c: { l: 1495, t: 2060, r: 1994, b: 2360 } },
};

export default function App() {
  const B = aBoxes;
  return (
    <div style={{ position: "absolute", left: 0, top: 0, width: 1994, height: 2767, overflow: "hidden", background: "#fff" }}>
      {/* panel a */}
      <ChartBox c={{ l: 86, t: 60, r: 1196, b: 1170 }} make={ringsConfig} />
      <ChartBox c={{ l: 41, t: 15, r: 1241, b: 1215 }} make={circleConfig} />
      <T x={647} y={593} s={41} bold ls={1.9} align="center" text="Feature importance" />
      <T x={647} y={642} s={41} bold ls={1} align="center" text="for CMD prediction" />
      <T x={24} y={14} s={68} bold text="a" />
      <T x={242} y={1197} text="+ Positive" s={27} ls={0.5} />
      <T x={242} y={1230.6} text="contribution" s={27} ls={1.2} />
      <T x={62} y={1248} text="− Negative" s={27} ls={0.5} />
      <T x={60.5} y={1282} text="contribution" s={27} ls={1.2} />
      <div style={{ position: "absolute", left: 141, top: 1193, width: 93, height: 106, borderTop: "3px solid #231f20", borderRight: "3px solid #231f20", borderTopRightRadius: "100% 100%" }} />
      <div style={{ position: "absolute", left: 981, top: 1195, width: 204, height: 19, background: "linear-gradient(90deg,#c4464f 0%,#dd6a5e 28%,#f6cfc8 44%,#ffffff 50%,#c3d6e8 60%,#6c9cc6 78%,#1f4e7e 100%)" }} />
      <T x={987} y={1239} text="−1.0" s={28} align="center" />
      <T x={1083} y={1239} text="0.0" s={28} align="center" />
      <T x={1184} y={1239} text="1.0" s={28} align="center" />
      <T x={1084} y={1284.5} text="Normalized metabolite value" s={28} ls={0.6} align="center" />

      <T x={1377} y={12.6} text="Groups" s={28} ls={0.9} />
      {groupNames.map((n, i) => (
        <React.Fragment key={"g" + i}>
          <Swatch x={1382} y={50.5 + i * 28.62} w={41} h={17} color={groupColors[i]} />
          <T x={1440} y={50.5 + i * 28.62} text={n} s={28} ls={0.82} />
        </React.Fragment>
      ))}
      <T x={1377} y={442} text="Subgroups" s={28} ls={0.9} />
      {subgroupNames.map((n, i) => (
        <React.Fragment key={"s" + i}>
          <Swatch x={1382} y={482.3 + i * 28.62} w={41} h={17} color={subgroupColors[i]} />
          <T x={1440} y={482.3 + i * 28.62} text={n} s={28} ls={0.82} />
        </React.Fragment>
      ))}

      {/* panel b */}
      <T x={19} y={1417} s={64} bold text="b" />
      <ChartBox c={B.b.c} make={() => bConfig(B.b.a, B.b.c)} />
      <T x={42} y={1618} s={27} align="center" rot={-90} text="Absolute AUPRC" />

      {/* panel c */}
      <T x={707} y={1421} s={64} bold text="c" />
      <ChartBox c={B.c.c} make={() => cConfig(B.c.a, B.c.c)} />
      <T x={700.8} y={1704.7} s={29} align="center" rot={-90} text="Standardized Net Benefit (%)" />
      <T x={1000} y={1995.5} s={29} align="center" text="Threshold probability (%)" />
      {cLegend.map((n, i) => (
        <T key={"c" + i} x={1057} y={1468 + i * 33.4} text={n} s={27} ls={cLegendSpacing[i]} />
      ))}
      <Swatch x={1019} y={1468} w={29} h={4} color="#c9302c" />
      <div style={{ position: "absolute", left: 1019, top: 1499, width: 29, height: 4, background: "repeating-linear-gradient(90deg,#1f1f1f 0 12px,transparent 12px 17px)" }} />
      <Swatch x={1016} y={1534.8} w={34} h={18} color="#e9b8a4" />
      <Swatch x={1019} y={1568.2} w={29} h={4} color="#3f97d3" />
      <div style={{ position: "absolute", left: 1019, top: 1599.6, width: 26, height: 4, background: "repeating-linear-gradient(90deg,#1f1f1f 0 4px,transparent 4px 11px)" }} />
      <Swatch x={1016} y={1635} w={34} h={18} color="#c5d6ef" />
      <Swatch x={1019} y={1668.4} w={29} h={4} color={AXIS} />
      <div style={{ position: "absolute", left: 1019, top: 1699.8, width: 29, height: 4, background: `repeating-linear-gradient(90deg,${AXIS} 0 12px,transparent 12px 17px)` }} />

      {/* panel d */}
      <T x={19} y={2120} s={64} bold text="d" />
      <ChartBox c={B.d.c} make={() => dConfig(B.d.a, B.d.c)} />
      <T x={42} y={2302} s={28} align="center" rot={-90} text="Absolute C-index" />
      <T x={629} y={2301} s={28} align="center" rot={-90} text="Δ C-index" />

      {/* panel e */}
      <T x={707} y={2125} s={64} bold text="e" />
      <ChartBox c={B.e.c} make={() => eConfig(B.e.a, B.e.c)} />
      <T x={700.8} y={2408.6} s={29} align="center" rot={-90} text="Standardized net benefit (%)" />
      <T x={1000} y={2678} s={29} align="center" text="Threshold probability (%)" />
      {eLegend.map((n, i) => (
        <T key={"e" + i} x={1054} y={2195 + i * 33.3} text={n} s={27} ls={eLegendSpacing[i]} />
      ))}
      <Swatch x={1018} y={2195} w={29} h={4} color="#c9302c" />
      <div style={{ position: "absolute", left: 1018, top: 2226, width: 26, height: 4, background: "repeating-linear-gradient(90deg,#1f1f1f 0 4px,transparent 4px 11px)" }} />
      <Swatch x={1015} y={2261.6} w={35} h={18} color="#e9b8a4" />
      <Swatch x={1018} y={2295} w={29} h={4} color={AXIS} />
      <div style={{ position: "absolute", left: 1018, top: 2326.4, width: 29, height: 4, background: `repeating-linear-gradient(90deg,${AXIS} 0 12px,transparent 12px 17px)` }} />

      {/* panels f, g, h */}
      <T x={1460} y={1418} s={64} bold text="f" />
      <T x={1769} y={1390} s={28} align="center" text="Absolute C-index" />
      <ChartBox c={B.f.c} make={() => barConfig(B.f.a, B.f.c, sexValues, [0.5, 0.7989], "Sex", [-0.763, 6.785], [0.5, 0.6, 0.7, 0.8], "top")} />
      <T x={1460} y={1727} s={64} bold text="g" />
      <ChartBox c={B.g.c} make={() => barConfig(B.g.a, B.g.c, incomeValues, [0.5, 0.7989], "Income", [-0.763, 6.785], [], "none")} />
      <T x={1460} y={2028} s={64} bold text="h" />
      <ChartBox c={B.h.c} make={() => barConfig(B.h.a, B.h.c, educationValues, [0, 0.3004], "Education", [-0.783, 6.82], [0, 0.1, 0.2, 0.3], "bottom")} />
      <T x={1771} y={2376} s={28} align="center" text="Δ C-index" />

      {legendBlocks.map(([title, c1, c2, yTitle, yRow, titleLs]) => (
        <React.Fragment key={title}>
          <T x={1462.5} y={yTitle} text={title} s={28} ls={titleLs} />
          <Swatch x={1464} y={yRow} w={35} h={18} color={c1} />
          <T x={1513.6} y={yRow} text={genderLegend[0]} s={28} ls={1} />
          <Swatch x={1464} y={yRow + 33.6} w={35} h={18} color={c2} />
          <T x={1513.6} y={yRow + 33.6} text={genderLegend[1]} s={28} ls={0.35} />
        </React.Fragment>
      ))}
    </div>
  );
}
